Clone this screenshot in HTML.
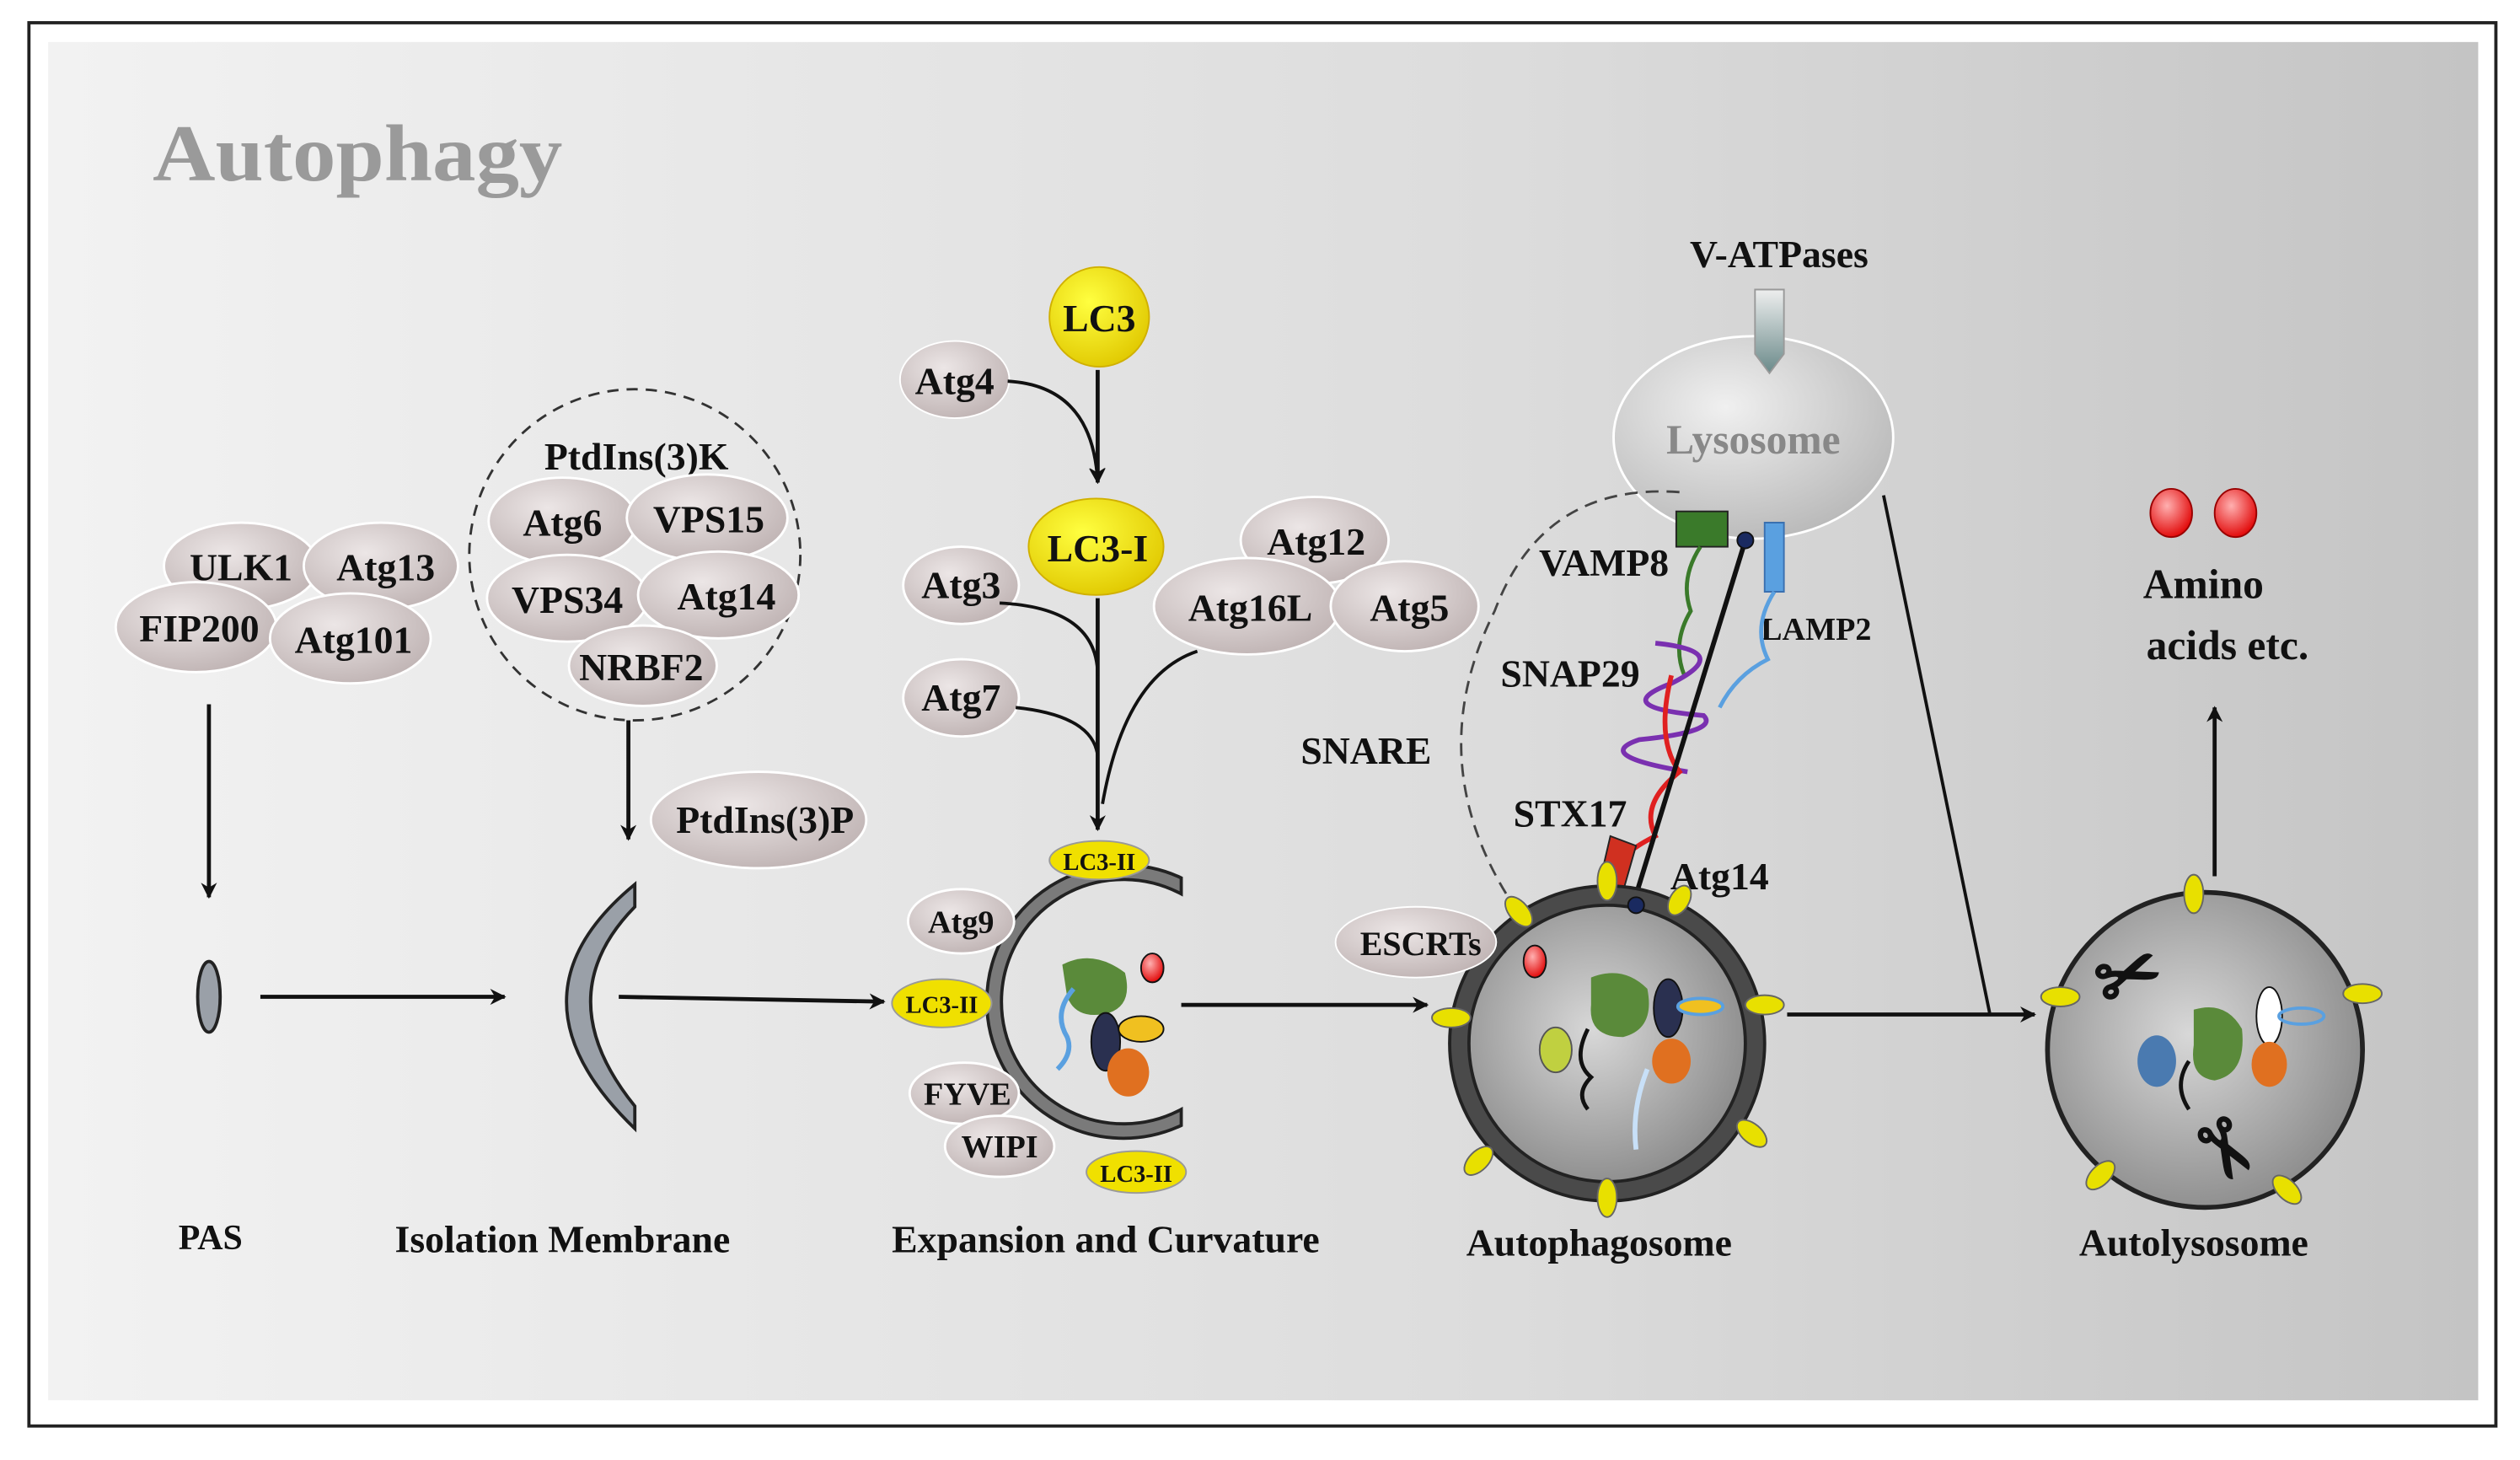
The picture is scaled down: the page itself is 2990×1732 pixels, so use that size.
<!DOCTYPE html>
<html><head><style>
html,body{margin:0;padding:0;background:#fff;}
svg{display:block;}
text{font-family:"Liberation Serif",serif;font-weight:bold;fill:#111;}
</style></head><body>
<svg width="2990" height="1732" viewBox="0 0 1568 908" xmlns="http://www.w3.org/2000/svg">
<defs>
<linearGradient id="bg" x1="0" y1="0" x2="1" y2="0">
<stop offset="0" stop-color="#f2f2f2"/><stop offset="0.6" stop-color="#dcdcdc"/><stop offset="1" stop-color="#c4c4c4"/></linearGradient>
<radialGradient id="el" cx="0.4" cy="0.35" r="0.7">
<stop offset="0" stop-color="#ece6e6"/><stop offset="1" stop-color="#bfb3b3"/></radialGradient>
<radialGradient id="yl" cx="0.4" cy="0.35" r="0.7">
<stop offset="0" stop-color="#ffff40"/><stop offset="1" stop-color="#e0c800"/></radialGradient>
<radialGradient id="ly" cx="0.4" cy="0.35" r="0.7">
<stop offset="0" stop-color="#f0f0f0"/><stop offset="1" stop-color="#b8b8b8"/></radialGradient>
<radialGradient id="ap" cx="0.45" cy="0.45" r="0.6">
<stop offset="0" stop-color="#d8d8d8"/><stop offset="1" stop-color="#8a8a8a"/></radialGradient>
<radialGradient id="red" cx="0.4" cy="0.35" r="0.7">
<stop offset="0" stop-color="#ffb0b0"/><stop offset="1" stop-color="#e00000"/></radialGradient>
<linearGradient id="va" x1="0" y1="0" x2="0" y2="1"><stop offset="0" stop-color="#eee"/><stop offset="1" stop-color="#6a8a8a"/></linearGradient>
<marker id="ar" markerWidth="10" markerHeight="10" refX="9" refY="5" orient="auto" markerUnits="userSpaceOnUse">
<path d="M0,0 L10,5 L0,10 L3,5 Z" fill="#111"/></marker>
</defs>
<rect x="0" y="0" width="1568" height="908" fill="#fff"/>
<rect x="18" y="14" width="1535" height="873" fill="#fff" stroke="#222" stroke-width="2"/>
<rect x="30" y="26" width="1512" height="845" fill="url(#bg)"/>
<text x="95" y="112" font-size="50" textLength="255" lengthAdjust="spacingAndGlyphs" style="fill:#9a9a9a">Autophagy</text>

<!-- PAS cluster -->
<g stroke="#fff" stroke-width="1.5" fill="url(#el)">
<ellipse cx="150" cy="352" rx="48" ry="27"/>
<ellipse cx="237" cy="352" rx="48" ry="27"/>
<ellipse cx="122" cy="390" rx="50" ry="28"/>
<ellipse cx="218" cy="397" rx="50" ry="28"/>
</g>
<text x="150" y="361" font-size="24" text-anchor="middle">ULK1</text>
<text x="240" y="361" font-size="24" text-anchor="middle">Atg13</text>
<text x="124" y="399" font-size="24" text-anchor="middle">FIP200</text>
<text x="220" y="406" font-size="24" text-anchor="middle">Atg101</text>
<line x1="130" y1="438" x2="130" y2="558" stroke="#111" stroke-width="2.5" marker-end="url(#ar)"/>
<ellipse cx="130" cy="620" rx="7" ry="22" fill="#9aa0a8" stroke="#222" stroke-width="2"/>
<line x1="162" y1="620" x2="314" y2="620" stroke="#111" stroke-width="2.5" marker-end="url(#ar)"/>
<text x="131" y="777" font-size="22" text-anchor="middle">PAS</text>

<!-- PtdIns3K -->
<circle cx="395" cy="345" r="103" fill="none" stroke="#333" stroke-width="1.5" stroke-dasharray="7,5"/>
<text x="396" y="292" font-size="24" text-anchor="middle">PtdIns(3)K</text>
<g stroke="#fff" stroke-width="1.5" fill="url(#el)">
<ellipse cx="350" cy="324" rx="46" ry="27"/>
<ellipse cx="440" cy="322" rx="50" ry="27"/>
<ellipse cx="353" cy="372" rx="50" ry="27"/>
<ellipse cx="447" cy="370" rx="50" ry="27"/>
<ellipse cx="400" cy="414" rx="46" ry="25"/>
</g>
<text x="350" y="333" font-size="24" text-anchor="middle">Atg6</text>
<text x="441" y="331" font-size="24" text-anchor="middle">VPS15</text>
<text x="353" y="381" font-size="24" text-anchor="middle">VPS34</text>
<text x="452" y="379" font-size="24" text-anchor="middle">Atg14</text>
<text x="399" y="423" font-size="24" text-anchor="middle">NRBF2</text>
<line x1="391" y1="448" x2="391" y2="522" stroke="#111" stroke-width="2.5" marker-end="url(#ar)"/>
<ellipse cx="472" cy="510" rx="67" ry="30" fill="url(#el)" stroke="#fff" stroke-width="1.5"/>
<text x="476" y="518" font-size="24" text-anchor="middle">PtdIns(3)P</text>
<path d="M395,550 Q310,620 395,702 L395,688 Q340,620 395,564 Z" fill="#9aa0a8" stroke="#222" stroke-width="2"/>
<line x1="385" y1="620" x2="550" y2="623" stroke="#111" stroke-width="2.5" marker-end="url(#ar)"/>
<text x="350" y="779" font-size="24" text-anchor="middle">Isolation Membrane</text>

<!-- LC3 -->
<circle cx="684" cy="197" r="31" fill="url(#yl)" stroke="#d0b000" stroke-width="1"/>
<text x="684" y="206" font-size="24" text-anchor="middle">LC3</text>
<ellipse cx="594" cy="236" rx="34" ry="24" fill="url(#el)" stroke="#fff"/>
<text x="594" y="245" font-size="24" text-anchor="middle">Atg4</text>
<path d="M627,237 Q680,240 683,300" fill="none" stroke="#111" stroke-width="2" marker-end="url(#ar)"/>
<line x1="683" y1="230" x2="683" y2="300" stroke="#111" stroke-width="2.5" marker-end="url(#ar)"/>
<ellipse cx="682" cy="340" rx="42" ry="30" fill="url(#yl)" stroke="#d0b000"/>
<text x="683" y="349" font-size="24" text-anchor="middle">LC3-I</text>
<g stroke="#fff" stroke-width="1.5" fill="url(#el)">
<ellipse cx="598" cy="364" rx="36" ry="24"/>
<ellipse cx="598" cy="434" rx="36" ry="24"/>
<ellipse cx="818" cy="336" rx="46" ry="27"/>
<ellipse cx="776" cy="377" rx="58" ry="30"/>
<ellipse cx="874" cy="377" rx="46" ry="28"/>
</g>
<text x="598" y="372" font-size="24" text-anchor="middle">Atg3</text>
<text x="598" y="442" font-size="24" text-anchor="middle">Atg7</text>
<text x="819" y="345" font-size="24" text-anchor="middle">Atg12</text>
<text x="778" y="386" font-size="24" text-anchor="middle">Atg16L</text>
<text x="877" y="386" font-size="24" text-anchor="middle">Atg5</text>
<line x1="683" y1="372" x2="683" y2="516" stroke="#111" stroke-width="2.5" marker-end="url(#ar)"/>
<path d="M622,375 Q683,378 683,420" fill="none" stroke="#111" stroke-width="2"/>
<path d="M632,440 Q680,445 683,470" fill="none" stroke="#111" stroke-width="2"/>
<path d="M745,405 Q700,420 686,500" fill="none" stroke="#111" stroke-width="2"/>

<!-- Expansion -->
<path d="M735,546 A85,85 0 1 0 735,700 L735,690 A76,76 0 1 1 735,556 Z" fill="#7a7a7a" stroke="#222" stroke-width="2"/>
<path d="M661,600 Q680,590 700,605 Q705,625 690,630 Q670,635 664,620 Z" fill="#5a8a3a"/>
<ellipse cx="688" cy="648" rx="9" ry="18" fill="#2a3050" stroke="#111"/>
<ellipse cx="710" cy="640" rx="14" ry="8" fill="#f0c020" stroke="#111"/>
<ellipse cx="702" cy="667" rx="13" ry="15" fill="#e07020"/>
<ellipse cx="717" cy="602" rx="7" ry="9" fill="url(#red)" stroke="#111"/>
<path d="M668,615 Q655,630 664,645 Q668,655 658,665" fill="none" stroke="#5aa0e0" stroke-width="3"/>
<ellipse cx="684" cy="535" rx="31" ry="12" fill="#f0e000" stroke="#999"/>
<text x="684" y="541" font-size="15" text-anchor="middle">LC3-II</text>
<ellipse cx="586" cy="624" rx="31" ry="15" fill="#f0e000" stroke="#999"/>
<text x="586" y="630" font-size="15" text-anchor="middle">LC3-II</text>
<ellipse cx="707" cy="729" rx="31" ry="13" fill="#f0e000" stroke="#999"/>
<text x="707" y="735" font-size="15" text-anchor="middle">LC3-II</text>
<g stroke="#fff" stroke-width="1.5" fill="url(#el)">
<ellipse cx="598" cy="573" rx="33" ry="20"/>
<ellipse cx="600" cy="680" rx="34" ry="19"/>
<ellipse cx="622" cy="713" rx="34" ry="19"/>
</g>
<text x="598" y="580" font-size="20" text-anchor="middle">Atg9</text>
<text x="602" y="687" font-size="20" text-anchor="middle">FYVE</text>
<text x="622" y="720" font-size="20" text-anchor="middle">WIPI</text>
<line x1="735" y1="625" x2="888" y2="625" stroke="#111" stroke-width="2.5" marker-end="url(#ar)"/>
<text x="688" y="779" font-size="24" text-anchor="middle">Expansion and Curvature</text>

<!-- Lysosome -->
<text x="1107" y="166" font-size="24" text-anchor="middle">V-ATPases</text>
<ellipse cx="1091" cy="272" rx="87" ry="63" fill="url(#ly)" stroke="#fff" stroke-width="1.5"/>
<text x="1091" y="282" font-size="26" text-anchor="middle" style="fill:#888">Lysosome</text>
<path d="M1092,180 L1110,180 L1110,220 L1101,232 L1092,220 Z" fill="url(#va)" stroke="#999"/>
<path d="M1045,306 Q960,300 930,380 Q880,480 950,575" fill="none" stroke="#444" stroke-width="1.5" stroke-dasharray="8,5"/>
<text x="850" y="475" font-size="24" text-anchor="middle">SNARE</text>
<text x="998" y="358" font-size="24" text-anchor="middle">VAMP8</text>
<text x="977" y="427" font-size="24" text-anchor="middle">SNAP29</text>
<text x="977" y="514" font-size="24" text-anchor="middle">STX17</text>
<text x="1130" y="398" font-size="20" text-anchor="middle">LAMP2</text>
<rect x="1043" y="318" width="32" height="22" fill="#3a7a2a" stroke="#222"/>
<path d="M1098,325 L1110,325 L1110,368 L1098,368 Z" fill="#5aa0e0" stroke="#3a70b0"/>
<path d="M1058,340 Q1045,360 1052,380 Q1040,400 1048,420" fill="none" stroke="#3a7a2a" stroke-width="2.5"/>
<path d="M1104,368 Q1090,390 1100,410 Q1080,420 1070,440" fill="none" stroke="#5aa0e0" stroke-width="2.5"/>
<path d="M1030,400 Q1080,405 1040,425 Q1000,440 1060,445 Q1070,455 1020,460 Q990,470 1050,480" fill="none" stroke="#7a30b0" stroke-width="3"/>
<path d="M1040,420 Q1030,460 1045,480 Q1020,500 1030,520 Q1010,530 1005,540" fill="none" stroke="#e02020" stroke-width="3"/>
<line x1="1086" y1="336" x2="1016" y2="563" stroke="#111" stroke-width="3"/>
<circle cx="1086" cy="336" r="5" fill="#1a2a60" stroke="#111"/>
<path d="M1002,520 L1018,526 L1006,568 L992,563 Z" fill="#d03020" stroke="#222"/>
<text x="1070" y="553" font-size="24" text-anchor="middle">Atg14</text>
<line x1="1172" y1="308" x2="1238" y2="630" stroke="#111" stroke-width="2"/>

<!-- Autophagosome -->
<circle cx="1000" cy="649" r="98" fill="#4a4a4a" stroke="#222" stroke-width="2"/>
<circle cx="1000" cy="649" r="86" fill="url(#ap)" stroke="#222" stroke-width="2"/>
<g fill="#e8e000" stroke="#666">
<ellipse cx="1000" cy="548" rx="6" ry="12"/><ellipse cx="945" cy="567" rx="6" ry="11" transform="rotate(-40 945 567)"/>
<ellipse cx="1098" cy="625" rx="12" ry="6"/><ellipse cx="1090" cy="705" rx="6" ry="11" transform="rotate(-50 1090 705)"/>
<ellipse cx="1000" cy="745" rx="6" ry="12"/><ellipse cx="920" cy="722" rx="6" ry="11" transform="rotate(45 920 722)"/>
<ellipse cx="903" cy="633" rx="12" ry="6"/><ellipse cx="1045" cy="560" rx="6" ry="10" transform="rotate(30 1045 560)"/>
</g>
<circle cx="1018" cy="563" r="5" fill="#1a2a60" stroke="#111"/>
<path d="M990,608 Q1010,600 1025,615 Q1030,640 1010,645 Q988,645 990,625 Z" fill="#5a8a3a"/>
<ellipse cx="1038" cy="627" rx="9" ry="18" fill="#2a3050" stroke="#111"/>
<ellipse cx="1058" cy="626" rx="14" ry="5" fill="#f0c020" stroke="#5aa0e0" stroke-width="2"/>
<ellipse cx="1040" cy="660" rx="12" ry="14" fill="#e07020"/>
<ellipse cx="968" cy="653" rx="10" ry="14" fill="#c0d040" stroke="#555"/>
<ellipse cx="955" cy="598" rx="7" ry="10" fill="url(#red)" stroke="#111"/>
<path d="M988,640 Q978,660 990,670 Q980,680 988,690" fill="none" stroke="#111" stroke-width="2.5"/>
<path d="M1025,665 Q1015,690 1018,715" fill="none" stroke="#c8e0f8" stroke-width="3"/>
<ellipse cx="881" cy="586" rx="50" ry="22" fill="url(#el)" stroke="#fff"/>
<text x="884" y="594" font-size="21" text-anchor="middle">ESCRTs</text>
<line x1="1112" y1="631" x2="1266" y2="631" stroke="#111" stroke-width="2.5" marker-end="url(#ar)"/>
<text x="995" y="781" font-size="24" text-anchor="middle">Autophagosome</text>

<!-- Autolysosome -->
<circle cx="1372" cy="653" r="98" fill="url(#ap)" stroke="#222" stroke-width="3"/>
<g fill="#e8e000" stroke="#666">
<ellipse cx="1365" cy="556" rx="6" ry="12"/><ellipse cx="1282" cy="620" rx="12" ry="6"/>
<ellipse cx="1470" cy="618" rx="12" ry="6"/><ellipse cx="1307" cy="731" rx="6" ry="11" transform="rotate(45 1307 731)"/>
<ellipse cx="1423" cy="740" rx="6" ry="11" transform="rotate(-45 1423 740)"/>
</g>
<path d="M1365,628 Q1385,622 1395,640 Q1398,668 1378,672 Q1362,670 1365,650 Z" fill="#5a8a3a"/>
<ellipse cx="1342" cy="660" rx="12" ry="16" fill="#4a7ab0"/>
<ellipse cx="1412" cy="632" rx="8" ry="18" fill="#fff" stroke="#111"/>
<ellipse cx="1432" cy="632" rx="14" ry="5" fill="none" stroke="#5aa0e0" stroke-width="2"/>
<ellipse cx="1412" cy="662" rx="11" ry="14" fill="#e07020"/>
<text x="1305" y="625" font-size="48" style="fill:#111" transform="rotate(-20 1320 610)">✂</text>
<text x="1362" y="728" font-size="48" style="fill:#111" transform="rotate(60 1380 715)">✂</text>
<path d="M1362,660 Q1352,675 1362,690" fill="none" stroke="#111" stroke-width="2.5"/>
<line x1="1378" y1="545" x2="1378" y2="440" stroke="#111" stroke-width="2.5" marker-end="url(#ar)"/>
<ellipse cx="1351" cy="319" rx="13" ry="15" fill="url(#red)" stroke="#900"/>
<ellipse cx="1391" cy="319" rx="13" ry="15" fill="url(#red)" stroke="#900"/>
<text x="1371" y="372" font-size="26" text-anchor="middle">Amino</text>
<text x="1386" y="410" font-size="26" text-anchor="middle">acids etc.</text>
<text x="1365" y="781" font-size="24" text-anchor="middle">Autolysosome</text>
</svg>
</body></html>
